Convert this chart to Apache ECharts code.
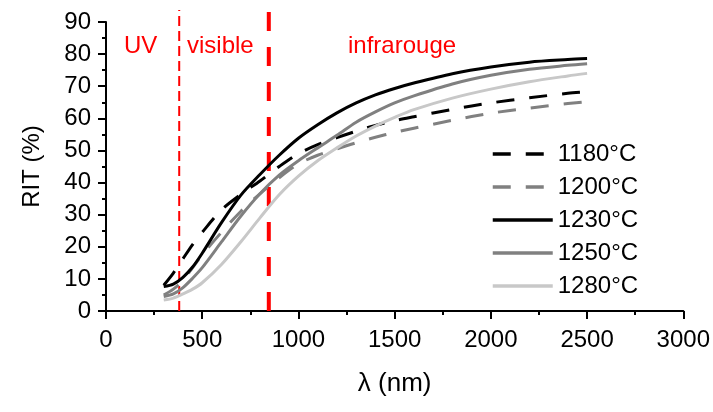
<!DOCTYPE html>
<html>
<head>
<meta charset="utf-8">
<script src="https://cdn.jsdelivr.net/npm/echarts@6/dist/echarts.min.js"></script>
<style>
  html, body { margin: 0; padding: 0; background: #fff; }
  #chart { width: 713px; height: 412px; }
</style>
</head>
<body>
<div id="chart"></div>
<script>
// Wavelength grid (nm) and total reflectance RIT (%) for each firing temperature
const wavelengths = [300, 350, 400, 450, 500, 600, 700, 800, 900, 1000, 1100, 1200, 1300, 1400, 1500, 1600, 1800, 2000, 2200, 2400, 2500];
const rit1180 = [8, 11.8, 16.3, 20.7, 24.5, 31.5, 36.3, 40.5, 45, 49, 51.8, 54, 56, 57.8, 59.3, 60.5, 62.8, 64.8, 66.4, 67.8, 68.3];
const rit1200 = [5, 6.8, 9.5, 13.5, 17.5, 24.5, 31, 36.5, 41.5, 45.8, 48.5, 50.5, 52.4, 54.1, 55.6, 56.9, 59.4, 61.6, 63.2, 64.6, 65.2];
const rit1230 = [7.6, 8.4, 10.5, 13.7, 18, 27.5, 36, 42.5, 48.5, 53.8, 58, 61.7, 64.8, 67.3, 69.3, 71, 73.9, 76, 77.5, 78.3, 78.6];
const rit1250 = [4.5, 5.3, 7.3, 10.2, 13.5, 21.5, 29.5, 36.5, 42.3, 46.8, 50.8, 54.7, 58.8, 62, 64.8, 67, 70.7, 73.4, 75.3, 76.5, 77];
const rit1280 = [3.4, 4, 5.3, 6.8, 8.8, 14.5, 21.5, 29, 36.2, 42, 46.8, 50.8, 54.5, 57.6, 60.3, 62.7, 66.3, 69.1, 71.4, 73.2, 74];

const seriesNames = ['1180°C', '1200°C', '1230°C', '1250°C', '1280°C'];

// Spectral domain boundaries (nm): UV | visible | infrared
const uvVisibleLimit = 380;
const visibleIrLimit = 845;
const domainLabels = ['UV', 'visible', 'infrarouge'];

const FONT = '"Liberation Sans", Arial, sans-serif';

function pairs(ys) {
  return wavelengths.map((x, i) => [x, ys[i]]);
}

function curve(name, ys, color, type) {
  return {
    name: name,
    type: 'line',
    xAxisIndex: 0,
    yAxisIndex: 0,
    data: pairs(ys),
    showSymbol: false,
    symbol: 'none',
    smooth: 0.3,
    lineStyle: { color: color, width: 3, type: type, cap: 'butt' },
    itemStyle: { color: color },
    emphasis: { disabled: true },
    z: 3
  };
}

function boundary(x, width, dash) {
  return {
    type: 'line',
    xAxisIndex: 1,
    yAxisIndex: 1,
    data: [[x, 0], [x, 1]],
    showSymbol: false,
    symbol: 'none',
    lineStyle: { color: '#ff0000', width: width, type: dash, cap: 'butt' },
    emphasis: { disabled: true },
    silent: true,
    z: 2
  };
}

const plainNumber = v => String(v);

const chart = echarts.init(document.getElementById('chart'), null, { renderer: 'canvas' });

const gridPos = { left: 106, right: 29, bottom: 101 };

chart.setOption({
  animation: false,
  backgroundColor: '#ffffff',
  grid: [
    Object.assign({ top: 22, containLabel: false }, gridPos),
    Object.assign({ top: 10, containLabel: false }, gridPos)
  ],
  legend: {
    data: seriesNames,
    orient: 'vertical',
    left: 491,
    top: 142,
    padding: 0,
    itemWidth: 60,
    itemHeight: 14,
    itemGap: 9,
    selectedMode: false,
    itemStyle: { color: 'rgba(0,0,0,0)', borderWidth: 0, opacity: 0 },
    lineStyle: { width: 3.5 },
    textStyle: { fontFamily: FONT, fontSize: 24, color: '#000', lineHeight: 24 }
  },
  xAxis: [
    {
      type: 'value',
      gridIndex: 0,
      min: 0,
      max: 3000,
      interval: 500,
      name: 'λ (nm)',
      nameLocation: 'middle',
      nameGap: 60,
      nameTextStyle: { fontFamily: FONT, fontSize: 26, color: '#000' },
      axisLine: { show: true, onZero: false, lineStyle: { color: '#000', width: 2 } },
      axisTick: { show: true, inside: false, length: 8, lineStyle: { color: '#000', width: 2 } },
      minorTick: { show: true, splitNumber: 2, length: 4, lineStyle: { color: '#000', width: 2 } },
      axisLabel: { show: true, margin: 17, formatter: plainNumber, fontFamily: FONT, fontSize: 24, color: '#000', showMinLabel: true, showMaxLabel: true, hideOverlap: false },
      splitLine: { show: false },
      minorSplitLine: { show: false }
    },
    {
      type: 'value',
      gridIndex: 1,
      min: 0,
      max: 3000,
      show: false
    }
  ],
  yAxis: [
    {
      type: 'value',
      gridIndex: 0,
      min: 0,
      max: 90,
      interval: 10,
      name: 'RIT (%)',
      nameLocation: 'middle',
      nameRotate: 90,
      nameGap: 62,
      nameTextStyle: { fontFamily: FONT, fontSize: 24, color: '#000' },
      axisLine: { show: true, onZero: false, lineStyle: { color: '#000', width: 2 } },
      axisTick: { show: true, inside: false, length: 8, lineStyle: { color: '#000', width: 2 } },
      minorTick: { show: true, splitNumber: 2, length: 4, lineStyle: { color: '#000', width: 2 } },
      axisLabel: { show: true, margin: 15, formatter: plainNumber, fontFamily: FONT, fontSize: 24, color: '#000', showMinLabel: true, showMaxLabel: true, hideOverlap: false },
      splitLine: { show: false },
      minorSplitLine: { show: false }
    },
    {
      type: 'value',
      gridIndex: 1,
      min: 0,
      max: 1,
      show: false
    }
  ],
  graphic: [
    { type: 'text', left: 124, top: 34, silent: true,
      style: { text: domainLabels[0], fill: '#ff0000', font: '24px ' + FONT } },
    { type: 'text', left: 187, top: 34, silent: true,
      style: { text: domainLabels[1], fill: '#ff0000', font: '24px ' + FONT } },
    { type: 'text', left: 348, top: 34, silent: true,
      style: { text: domainLabels[2], fill: '#ff0000', font: '24px ' + FONT } }
  ],
  series: [
    boundary(uvVisibleLimit, 2, [10, 5]),
    boundary(visibleIrLimit, 4, [19, 16]),
    curve(seriesNames[0], rit1180, '#000000', [18, 15]),
    curve(seriesNames[1], rit1200, '#808080', [18, 15]),
    curve(seriesNames[2], rit1230, '#000000', 'solid'),
    curve(seriesNames[3], rit1250, '#808080', 'solid'),
    curve(seriesNames[4], rit1280, '#c8c8c8', 'solid')
  ]
});
</script>
</body>
</html>
